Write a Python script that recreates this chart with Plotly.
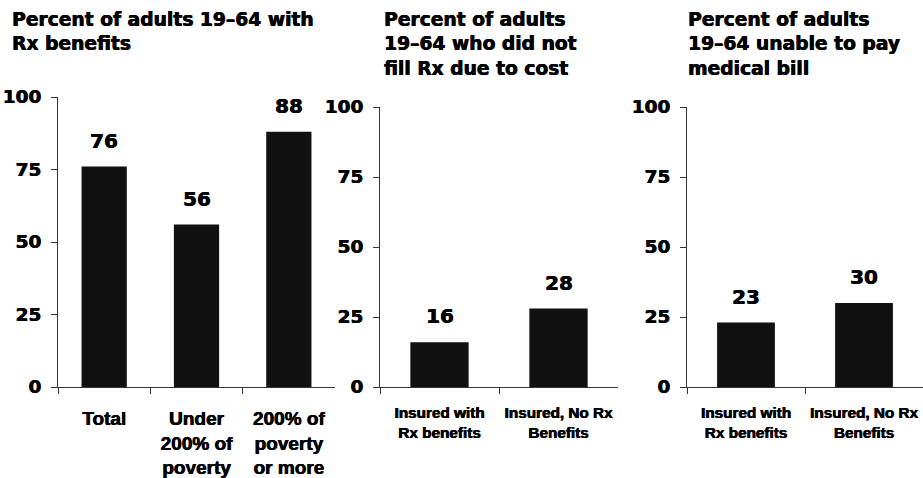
import plotly.graph_objects as go

# ---- data ----
p1_categories = ["Total", "Under<br>200% of<br>poverty", "200% of<br>poverty<br>or more"]
p1_values = [76, 56, 88]
p1_title = "Percent of adults 19–64 with<br>Rx benefits"

p2_categories = ["Insured with<br>Rx benefits", "Insured, No Rx<br>Benefits"]
p2_values = [16, 28]
p2_title = "Percent of adults<br>19–64 who did not<br>fill Rx due to cost"

p3_categories = ["Insured with<br>Rx benefits", "Insured, No Rx<br>Benefits"]
p3_values = [23, 30]
p3_title = "Percent of adults<br>19–64 unable to pay<br>medical bill"

y_ticks = [0, 25, 50, 75, 100]

# ---- layout constants ----
W, H = 923, 478
MB = 91
PH = H - MB  # plot area height (top margin 0)

BAR_COLOR = "#111111"
LINE_COLOR = "#333333"
THICK = "0.45px 0 0 #000, -0.2px 0 0 #000"
HEAVY = dict(family="DejaVu Sans", weight="bold", color="black", shadow=THICK)
ARIALB = dict(family="Liberation Sans", weight="bold", color="black", shadow=THICK)

fig = go.Figure()
panels = [
    (p1_categories, p1_values, "x", "y"),
    (p2_categories, p2_values, "x2", "y2"),
    (p3_categories, p3_values, "x3", "y3"),
]
for cats, vals, xa, ya in panels:
    fig.add_trace(go.Bar(
        x=cats, y=vals, xaxis=xa, yaxis=ya, width=0.49,
        marker=dict(color=BAR_COLOR, line=dict(width=0)),
        showlegend=False, hoverinfo="skip",
    ))
    for c, v in zip(cats, vals):
        fig.add_annotation(
            x=c, y=v, xref=xa, yref=ya, text=str(v), showarrow=False,
            yanchor="bottom", yshift=12, font=dict(size=20, **HEAVY),
        )


def xax(dom, rng, size, standoff):
    return dict(
        domain=dom, range=rng, type="category", showline=True, linecolor=LINE_COLOR,
        linewidth=1, ticks="outside", tickson="boundaries", ticklen=6,
        tickcolor=LINE_COLOR, showgrid=False, zeroline=False, automargin=False,
        tickfont=dict(size=size, **ARIALB), tickangle=0, ticklabelstandoff=standoff,
    )


def yax(dom, anchor):
    return dict(
        domain=dom, range=[0, 100], tickvals=y_ticks, showline=True,
        linecolor=LINE_COLOR, linewidth=1, ticks="outside", ticklen=6,
        tickcolor=LINE_COLOR, showgrid=False, zeroline=False, anchor=anchor,
        automargin=False, tickfont=dict(size=18.5, **HEAVY), ticklabelstandoff=6,
    )


fig.update_layout(
    width=W, height=H,
    margin=dict(l=0, r=0, t=0, b=MB),
    paper_bgcolor="white", plot_bgcolor="white",
    bargap=0.51,
    xaxis=xax([58 / W, 335 / W], [-0.5, 2.5], 19, 14),
    yaxis=yax([0, 290 / PH], "x"),
    xaxis2=dict(xax([380 / W, 618 / W], [-0.5, 1.5], 15.3, 12), anchor="y2"),
    yaxis2=yax([0, 280 / PH], "x2"),
    xaxis3=dict(xax([687 / W, 1.0], [-0.5, 1.5], 15.3, 12), anchor="y3"),
    yaxis3=yax([0, 280 / PH], "x3"),
)

for title, xpx in [(p1_title, 10), (p2_title, 382), (p3_title, 686)]:
    fig.add_annotation(
        x=xpx / W, y=1 - 7 / PH, xref="paper", yref="paper", text=title,
        showarrow=False, xanchor="left", yanchor="top", align="left",
        font=dict(size=18.7, **HEAVY),
    )

fig.write_html(
    "out.html",
    config={"displayModeBar": False},
    post_script="document.body.style.margin='0';document.body.style.overflow='hidden';",
)
